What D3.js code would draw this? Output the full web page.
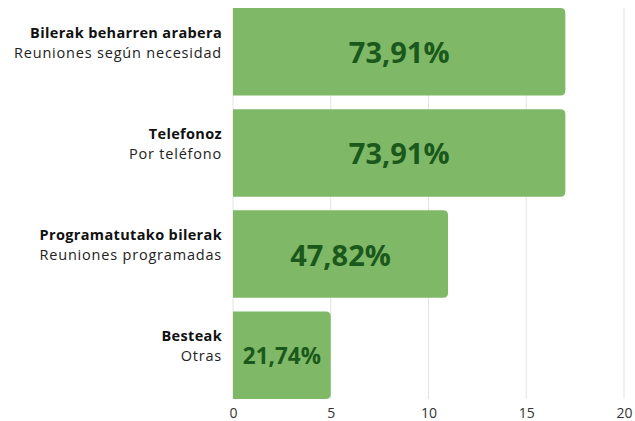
<!DOCTYPE html>
<html>
<head>
    <meta charset="utf-8" />
    <title>Bilerak</title>
    <script src="https://d3js.org/d3.v7.min.js"></script>
    <style>
        body { margin: 0; background: #fff; }
        text { font-family: "Open Sans", "Noto Sans", sans-serif; }
    </style>
</head>
<body>
<svg width="635" height="421"></svg>

<script>
    // Data
    var labelsEu = ["Bilerak beharren arabera", "Telefonoz", "Programatutako bilerak", "Besteak"];
    var labelsEs = ["Reuniones según necesidad", "Por teléfono", "Reuniones programadas", "Otras"];
    var counts = [17, 17, 11, 5];
    var percents = ["73,91%", "73,91%", "47,82%", "21,74%"];
    var ticks = [0, 5, 10, 15, 20];

    var data = labelsEu.map(function (d, i) {
        return { eu: d, es: labelsEs[i], value: counts[i], pct: percents[i] };
    });

    var svg = d3.select("svg");

    // Scales
    var x = d3.scaleLinear().domain([0, 20]).range([233, 624]);
    var y = d3.scaleBand()
        .domain(data.map(function (d) { return d.eu; }))
        .range([8, 399])
        .paddingInner(0.134)
        .paddingOuter(0);

    // Gridlines
    svg.append("g")
        .selectAll("line")
        .data(ticks)
        .enter()
        .append("line")
        .attr("x1", function (d) { return x(d); })
        .attr("x2", function (d) { return x(d); })
        .attr("y1", 8)
        .attr("y2", 399)
        .attr("stroke", "#e3e3e3")
        .attr("stroke-width", 1);

    // Bars: rounded on the right side only
    function barPath(d) {
        var x0 = x(0), x1 = x(d.value), y0 = y(d.eu), h = y.bandwidth(), r = 5;
        return "M" + x0 + "," + y0 +
            "H" + (x1 - r) +
            "Q" + x1 + "," + y0 + " " + x1 + "," + (y0 + r) +
            "V" + (y0 + h - r) +
            "Q" + x1 + "," + (y0 + h) + " " + (x1 - r) + "," + (y0 + h) +
            "H" + x0 + "Z";
    }

    svg.selectAll(".bar")
        .data(data)
        .enter()
        .append("path")
        .attr("class", "bar")
        .attr("d", barPath)
        .attr("fill", "#7fb967");

    // Value labels
    svg.selectAll(".val")
        .data(data)
        .enter()
        .append("text")
        .attr("class", "val")
        .attr("text-anchor", "middle")
        .attr("dominant-baseline", "central")
        .attr("x", function (d) { return (x(0) + x(d.value)) / 2; })
        .attr("y", function (d) { return y(d.eu) + y.bandwidth() / 2; })
        .style("font-size", function (d) { return Math.min(29, (x(d.value) - x(0)) * 0.23) + "px"; })
        .style("font-weight", "bold")
        .attr("fill", "#1b581b")
        .text(function (d) { return d.pct; });

    // Category labels
    var cat = svg.selectAll(".cat")
        .data(data)
        .enter()
        .append("g")
        .attr("class", "cat");

    cat.append("text")
        .attr("text-anchor", "end")
        .attr("x", 222)
        .attr("y", function (d) { return y(d.eu) + y.bandwidth() / 2 - 14; })
        .style("font-size", "14.5px")
        .style("letter-spacing", "0.35px")
        .style("font-weight", "bold")
        .attr("fill", "#111")
        .text(function (d) { return d.eu; });

    cat.append("text")
        .attr("text-anchor", "end")
        .attr("x", 222)
        .attr("y", function (d) { return y(d.eu) + y.bandwidth() / 2 + 6; })
        .style("font-size", "14.5px")
        .style("letter-spacing", "0.8px")
        .attr("fill", "#222")
        .text(function (d) { return d.es; });

    // X axis
    var axis = svg.append("g")
        .attr("transform", "translate(0,402)")
        .call(d3.axisBottom(x).tickValues(ticks).tickSize(0).tickPadding(6));
    axis.select(".domain").remove();
    axis.selectAll("text")
        .style("font-size", "14px")
        .style("font-family", "'Open Sans', sans-serif")
        .attr("fill", "#333");
</script>
</body>
</html>
